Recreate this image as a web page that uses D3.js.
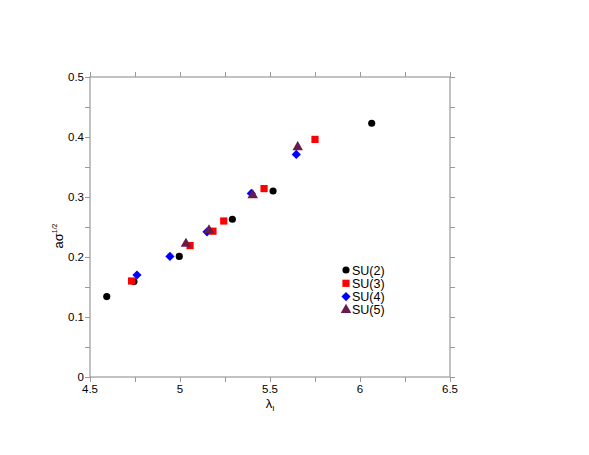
<!DOCTYPE html>
<html>
<head>
<meta charset="utf-8">
<script src="https://cdn.jsdelivr.net/npm/d3@7"></script>
<style>
  html, body { margin: 0; padding: 0; background: #fff; overflow: hidden; }
  svg { display: block; }
  text { font-family: "Liberation Sans", Arial, sans-serif; fill: #000; }
</style>
</head>
<body>
<svg width="589" height="455"></svg>
<script>
// values
const su2X = [4.593, 4.744, 4.996, 5.291, 5.517, 6.065];
const su2Y = [0.134, 0.159, 0.201, 0.263, 0.310, 0.423];
const su3X = [4.731, 5.056, 5.183, 5.243, 5.467, 5.750];
const su3Y = [0.160, 0.219, 0.243, 0.260, 0.314, 0.396];
const su4X = [4.761, 4.944, 5.150, 5.396, 5.646];
const su4Y = [0.170, 0.201, 0.242, 0.306, 0.371];
const su5X = [5.033, 5.161, 5.404, 5.654];
const su5Y = [0.222, 0.2445, 0.303, 0.383];
const seriesNames = ['SU(2)', 'SU(3)', 'SU(4)', 'SU(5)'];
const xTicks = [4.5, 5, 5.5, 6, 6.5];
const yTicks = [0, 0.1, 0.2, 0.3, 0.4, 0.5];

// the diamond is a square turned by 45 degrees
const series = [
    { name: seriesNames[0], xs: su2X, ys: su2Y, shape: d3.symbolCircle, size: 40, rot: 0, color: '#000000' },
    { name: seriesNames[1], xs: su3X, ys: su3Y, shape: d3.symbolSquare, size: 52, rot: 0, color: '#ff0000' },
    { name: seriesNames[2], xs: su4X, ys: su4Y, shape: d3.symbolSquare, size: 42, rot: 45, color: '#0000ff' },
    { name: seriesNames[3], xs: su5X, ys: su5Y, shape: d3.symbolTriangle, size: 48, rot: 0, color: '#6b1a4c' }
];

const svg = d3.select('svg');
const margin = { top: 77, right: 139, bottom: 78, left: 90 };
const width = +svg.attr('width');
const height = +svg.attr('height');
const innerWidth = width - margin.left - margin.right;
const innerHeight = height - margin.top - margin.bottom;

const xScale = d3.scaleLinear().domain([4.5, 6.5]).range([0, innerWidth]);
const yScale = d3.scaleLinear().domain([0, 0.5]).range([innerHeight, 0]);

const g = svg.append('g')
    .attr('transform', `translate(${margin.left}, ${margin.top})`);

const frame = '#9a9a9a';
const xMinor = d3.range(4.5, 6.51, 0.25);
const yMinor = d3.range(0, 0.501, 0.05);

// inward ticks on all four sides
const tickLines = (axis, ticks, len) => g.append('g').call(axis.tickValues(ticks).tickSize(len).tickFormat(''));

tickLines(d3.axisTop(xScale), xMinor, -5).attr('transform', `translate(0, ${innerHeight})`);
tickLines(d3.axisBottom(xScale), xMinor, -5);
tickLines(d3.axisRight(yScale), yMinor, -5);
tickLines(d3.axisLeft(yScale), yMinor, -5).attr('transform', `translate(${innerWidth}, 0)`);
g.selectAll('.domain').remove();
g.selectAll('.tick line').attr('stroke', frame);
g.selectAll('.tick text').remove();

g.append('rect')
    .attr('width', innerWidth)
    .attr('height', innerHeight)
    .attr('fill', 'none')
    .attr('stroke', frame)
    .attr('stroke-width', 1.2);

// tick labels
g.selectAll('.xlab').data(xTicks)
    .enter().append('text')
    .attr('x', d => xScale(d))
    .attr('y', innerHeight + 16)
    .attr('text-anchor', 'middle')
    .attr('font-size', 11.5)
    .text(d => d);

g.selectAll('.ylab').data(yTicks)
    .enter().append('text')
    .attr('x', -6)
    .attr('y', d => yScale(d) + 4)
    .attr('text-anchor', 'end')
    .attr('font-size', 11.5)
    .text(d => d);

// axis titles
const xt = g.append('text')
    .attr('x', innerWidth / 2)
    .attr('y', innerHeight + 31)
    .attr('text-anchor', 'middle')
    .attr('font-size', 13);
xt.append('tspan').text('λ');
xt.append('tspan').attr('font-size', 8).attr('dy', 3).text('I');

const yt = svg.append('text')
    .attr('transform', 'translate(63, 236) rotate(-90)')
    .attr('text-anchor', 'middle')
    .attr('font-size', 13);
yt.append('tspan').text('aσ');
yt.append('tspan').attr('font-size', 7).attr('dy', -6).text('1/2');

// markers
series.forEach(s => {
    g.selectAll(null).data(s.xs.map((x, i) => [x, s.ys[i]]))
        .enter().append('path')
        .attr('d', d3.symbol().type(s.shape).size(s.size))
        .attr('transform', d => `translate(${xScale(d[0])}, ${yScale(d[1])}) rotate(${s.rot})`)
        .attr('fill', s.color);
});

// legend
const legend = g.append('g').attr('transform', `translate(256, 193)`);
series.forEach((s, i) => {
    legend.append('path')
        .attr('d', d3.symbol().type(s.shape).size(s.size))
        .attr('transform', `translate(0, ${i * 13.3}) rotate(${s.rot})`)
        .attr('fill', s.color);
    legend.append('text')
        .attr('x', 6)
        .attr('y', i * 13.3 + 4.5)
        .attr('font-size', 12.5)
        .text(s.name);
});
</script>
</body>
</html>
